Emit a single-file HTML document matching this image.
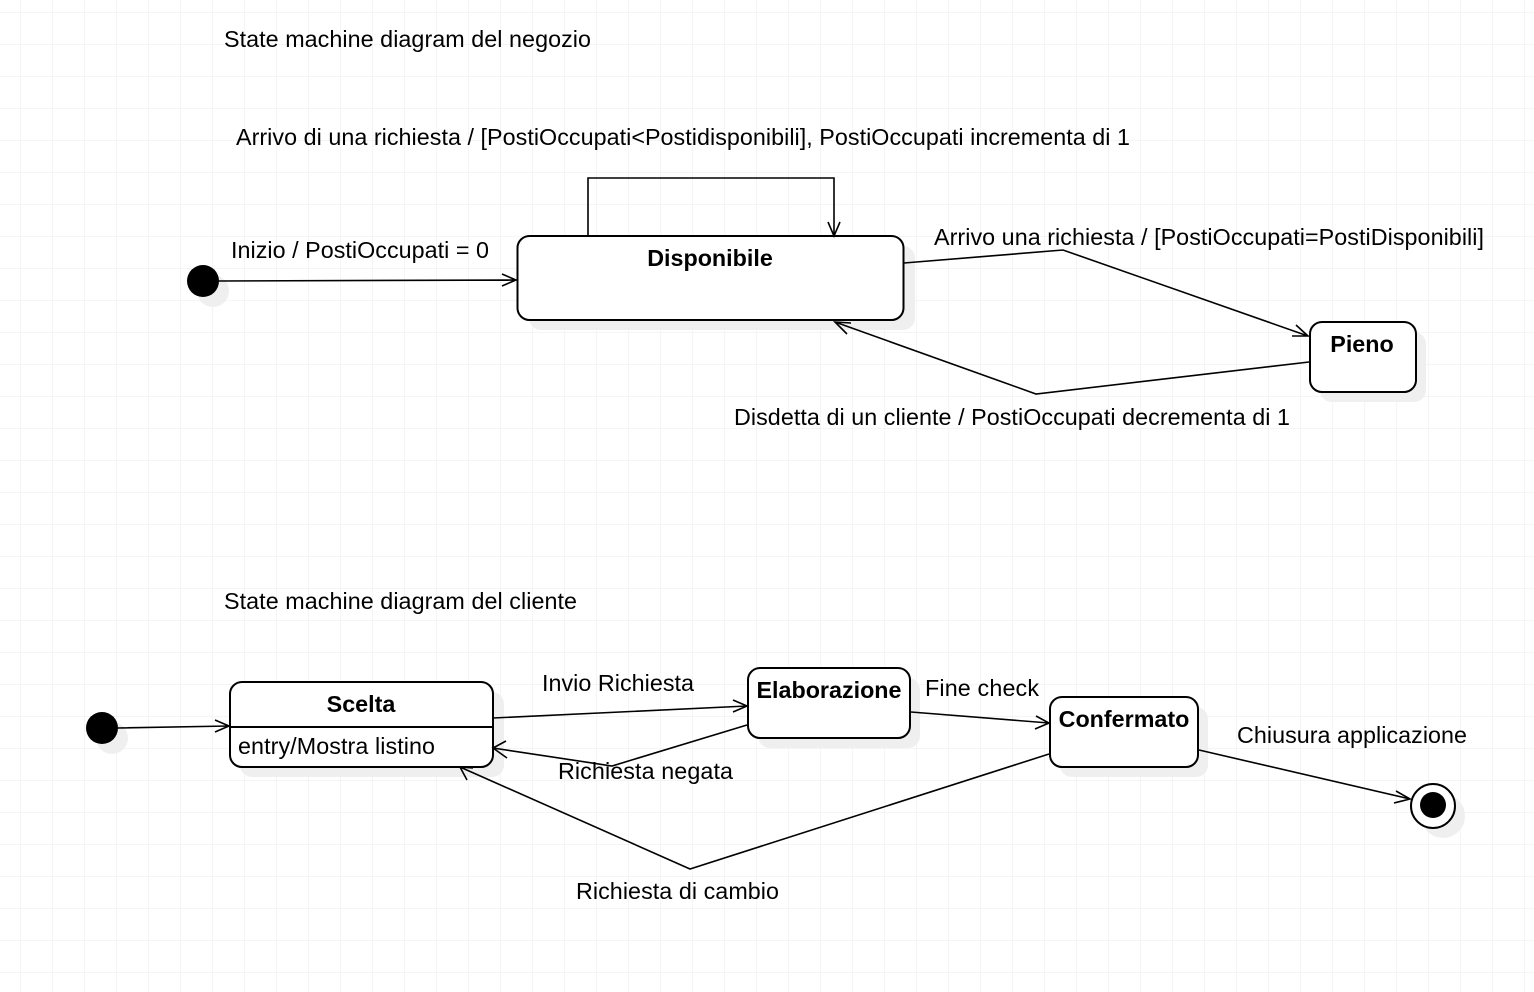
<!DOCTYPE html>
<html><head><meta charset="utf-8"><style>
html,body{margin:0;padding:0;background:#fff;}
svg{display:block;font-family:"Liberation Sans",sans-serif;}
</style></head><body>
<svg width="1534" height="992" viewBox="0 0 1534 992" xmlns="http://www.w3.org/2000/svg">
<defs>
<pattern id="g" x="20.5" y="12.5" width="32" height="32" patternUnits="userSpaceOnUse">
<path d="M0 0H32M0 0V32" stroke="#ebebeb" stroke-width="1" fill="none"/>
</pattern>
</defs>
<rect width="1534" height="992" fill="url(#g)"/>
<g fill="#efefef">
<circle cx="213" cy="291" r="16"/>
<rect x="529" y="246" width="386" height="84" rx="12"/>
<rect x="1320" y="332" width="106" height="70" rx="12"/>
<circle cx="112" cy="738" r="16"/>
<rect x="240" y="692" width="264" height="85" rx="12"/>
<rect x="758" y="678" width="162" height="70" rx="12"/>
<rect x="1060" y="707" width="148" height="70" rx="12"/>
<circle cx="1443" cy="816" r="22"/>
</g>
<g fill="none" stroke="#000" stroke-width="2">
<rect x="517.5" y="236" width="386" height="84" rx="12" fill="#fff"/>
<rect x="1310" y="322" width="106" height="70" rx="12" fill="#fff"/>
<rect x="230" y="682" width="263" height="85" rx="12" fill="#fff"/>
<line x1="230" y1="727" x2="493" y2="727"/>
<rect x="748" y="668" width="162" height="70" rx="12" fill="#fff"/>
<rect x="1050" y="697" width="148" height="70" rx="12" fill="#fff"/>
<circle cx="1433" cy="806" r="22" fill="#fff"/>
</g>
<g fill="#000"><circle cx="203" cy="281" r="16"/><circle cx="102" cy="728" r="16"/><circle cx="1433" cy="805" r="13"/></g>
<g fill="none" stroke="#000" stroke-width="1.6">
<path d="M219 281L516 280M502 274L516 280L502 286"/>
<path d="M588 236V178H834V236M828 222L834 236L840 222"/>
<path d="M904 263L1063 250L1308 336M1292 336L1308 336L1296 325"/>
<path d="M1309 362L1036 394L835 322M847 334L835 322L851 323"/>
<path d="M118 728L229 726M215 720L229 726L215 732"/>
<path d="M493 718L747 706M733 700L747 706L733 712"/>
<path d="M747 725L612 766L493 748M506 741L493 748L507 758"/>
<path d="M911 712L1049 723M1036 716L1049 723L1035 729"/>
<path d="M1049 754L690 869L460 767M467 780L460 767L473 768"/>
<path d="M1199 750L1410 799M1396 791L1410 799L1394 803"/>
</g>
<g font-size="23.3" fill="#000">
<text x="224" y="47" textLength="367">State machine diagram del negozio</text>
<text x="236" y="145" textLength="894">Arrivo di una richiesta / [PostiOccupati&lt;Postidisponibili], PostiOccupati incrementa di 1</text>
<text x="231" y="258" textLength="258">Inizio / PostiOccupati = 0</text>
<text x="934" y="245" textLength="550">Arrivo una richiesta / [PostiOccupati=PostiDisponibili]</text>
<text x="734" y="425" textLength="556">Disdetta di un cliente / PostiOccupati decrementa di 1</text>
<text x="224" y="609" textLength="353">State machine diagram del cliente</text>
<text x="542" y="691" textLength="152">Invio Richiesta</text>
<text x="925" y="696" textLength="114">Fine check</text>
<text x="558" y="779" textLength="175">Richiesta negata</text>
<text x="1237" y="743" textLength="230">Chiusura applicazione</text>
<text x="576" y="899" textLength="203">Richiesta di cambio</text>
<text x="238" y="754" textLength="197">entry/Mostra listino</text>
</g>
<g font-size="23.3" font-weight="bold" fill="#000" text-anchor="middle">
<text x="710" y="266">Disponibile</text>
<text x="1362" y="352">Pieno</text>
<text x="361" y="712">Scelta</text>
<text x="829" y="698">Elaborazione</text>
<text x="1124" y="727">Confermato</text>
</g>
</svg>
</body></html>
